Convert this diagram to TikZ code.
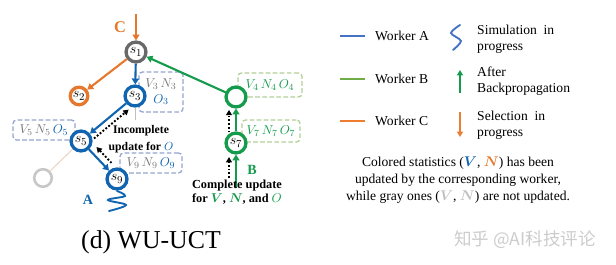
\documentclass[tikz,border=0pt]{standalone}
\usepackage{fontspec}
\setmainfont{Liberation Serif}
\newfontfamily\cjk{Noto Sans CJK SC}
\usepackage{bm}
\usepackage{tikz}
\usetikzlibrary{arrows.meta, calc}
\definecolor{CA}{RGB}{ 16,100,176}
\definecolor{CB}{RGB}{ 20,155, 75}
\definecolor{CC}{RGB}{230,120, 45}
\definecolor{CG}{RGB}{105,105,105}
\definecolor{LA}{RGB}{ 68,114,196}
\definecolor{LB}{RGB}{112,173, 71}
\definecolor{LC}{RGB}{237,125, 49}
\definecolor{BoxA}{RGB}{150,165,205}
\definecolor{BoxB}{RGB}{178,208,150}
\definecolor{GT}{RGB}{120,120,120}
\tikzset{
    snode/.style={circle, line width=2.8pt, fill=white, minimum size=17pt, inner sep=0pt, font=\fontsize{12.5}{12.5}\selectfont},
    link/.style={line width=1.8pt, -{Triangle[length=5pt,width=6pt]}},
    updarr/.style={black, line width=1.6pt, dash pattern=on 1.6pt off 1.6pt, -{Triangle[length=4.5pt,width=5pt]}},
    statbox/.style={rounded corners=3pt, dash pattern=on 4pt off 2pt, line width=1.1pt, inner sep=1pt, font=\fontsize{11}{13}\selectfont, align=center},
    legtxt/.style={anchor=west, align=left, inner sep=0pt, font=\fontsize{11.6}{13.6}\selectfont},
}

\begin{document}
\begin{tikzpicture}[x=0.03cm, y=-0.03cm]
    \useasboundingbox (0,0) rectangle (616,265);
    %% statistics boxes
    \node[statbox, draw=BoxA, minimum width=1.32cm, minimum height=1.2cm] (b3) at (161,92) {$\color{GT}V_3\,N_3$\\$\color{CA}O_3$};
    \node[statbox, draw=BoxB, minimum width=1.92cm, minimum height=0.72cm] (b4) at (270,85) {$\color{CB}V_4\,N_4\,O_4$};
    \node[statbox, draw=BoxA, minimum width=1.86cm, minimum height=0.6cm] (b5) at (44,130) {$\color{GT}V_5\,N_5\,{\color{CA}O_5}$};
    \node[statbox, draw=BoxA, minimum width=1.86cm, minimum height=0.6cm] (b9) at (151,163) {$\color{GT}V_9\,N_9\,{\color{CA}O_9}$};
    \node[statbox, draw=BoxB, minimum width=1.74cm, minimum height=0.66cm] (b7) at (271,131) {$\color{CB}V_7\,N_7\,O_7$};
    %% tree nodes
    \node[snode, draw=CG] (s1) at (136,52) {$s_1$};
    \node[snode, draw=CC, minimum size=15pt] (s2) at (79,96) {$s_2$};
    \node[snode, draw=CA] (s3) at (135,96) {$s_3$};
    \node[snode, draw=CB] (s4) at (236,97) {};
    \node[snode, draw=CA] (s5) at (81,141) {$s_5$};
    \node[snode, draw=black!22, line width=2.2pt, minimum size=15pt] (s6) at (43,178) {};
    \node[snode, draw=CA] (s9) at (117,179) {$s_9$};
    \node[snode, draw=CB] (s7) at (236,143) {$s_7$};
    %% free ends
    \coordinate (cC) at (136,14);
    \coordinate (bB) at (236,188);
    \coordinate (s3tail) at (135,120);
    \coordinate (dB) at (229,178);
    %% edges of the workers
    \draw[black!25, line width=0.8pt] (s3) -- (s3tail);
    \draw[brown!35, line width=0.8pt] (s5) -- (s6);
    \draw[link, CC] (cC) -- (s1);
    \draw[link, CC] (s1) -- (s2);
    \draw[link, CA] (s1) -- (s3);
    \draw[link, CB] (s4) -- (s1);
    \draw[link, CA] (s3) -- (s5);
    \draw[link, CA] (s5) -- (s9);
    \draw[link, CB] (s7) -- (s4);
    \draw[link, CB] (bB) -- (s7);
    %% simulation of worker A
    \draw[CA, line width=1.6pt, line cap=round] plot[smooth, tension=0.6] coordinates {(117,191) (125,196) (108,200) (126,205) (109,211)};
    %% dotted update arrows
    \draw[updarr, shorten <=13pt, shorten >=13pt] ($(s9)+(5,-5)$) -- ($(s5)+(5,-5)$);
    \draw[updarr, shorten <=10pt, shorten >=11.5pt] ($(s5)+(4,5)$) -- ($(s3)+(4,5)$);
    \draw[updarr, shorten <=9pt, shorten >=11pt] ($(s7)+(-7,0)$) -- ($(s4)+(-7,0)$);
    \draw[updarr, shorten >=12pt] (dB) -- ($(s7)+(-7,0)$);
    %% worker labels
    \node[CC, font=\bfseries\fontsize{14}{14}\selectfont] (lC) at (120,27) {C};
    \node[CA, font=\bfseries\fontsize{12}{12}\selectfont] (lA) at (88,200) {A};
    \node[CB, font=\bfseries\fontsize{12}{12}\selectfont] (lB) at (252,170) {B};
    \node[font=\bfseries\fontsize{10}{14}\selectfont, align=center, inner sep=1pt] (incomp) at (141,139) {Incomplete\\update for $\color{CA}O$};
    \node[font=\bfseries\fontsize{10.5}{12}\selectfont, align=center, inner sep=1pt] (comp) at (237,192) {Complete update\\for $\color{CB}\bm{V}$, $\color{CB}\bm{N}$, and $\color{CB}O$};
    %% caption
    \node[font=\fontsize{22}{22}\selectfont] (title) at (151,242) {(d) WU-UCT};
    %% legend
    \draw[LA, line width=2.4pt] (340,36) -- (365,36);
    \draw[LB, line width=2.4pt] (340,79) -- (365,79);
    \draw[LC, line width=2.4pt] (340,121) -- (365,121);
    \node[legtxt] (wA) at (375,36) {Worker A};
    \node[legtxt] (wB) at (375,79) {Worker B};
    \node[legtxt] (wC) at (375,121) {Worker C};
    \draw[LA, line width=1.6pt, line cap=round] plot[smooth, tension=0.5] coordinates {(460,25) (451,33) (461,41) (453,50)};
    \coordinate (gA) at (460,93);
    \coordinate (gB) at (460,70);
    \coordinate (oA) at (460,112);
    \coordinate (oB) at (460,137);
    \draw[CB, line width=1.5pt, -{Triangle[length=4.5pt,width=5pt]}] (gA) -- (gB);
    \draw[LC, line width=1.5pt, -{Triangle[length=4.5pt,width=5pt]}] (oA) -- (oB);
    \node[legtxt] (lsim) at (477,39) {Simulation\ \ in\\progress};
    \node[legtxt] (lbp) at (477,81) {After\\Backpropagation};
    \node[legtxt] (lsel) at (477,125) {Selection\ \ in\\progress};
    \node[align=center, font=\fontsize{11.6}{14.5}\selectfont] (note) at (458,180) {Colored statistics ($\color{CA}\bm{V}$, $\color{CC}\bm{N}$) has been\\updated by the corresponding worker,\\while gray ones ($\color{black!25}\bm{V}$, $\color{black!25}\bm{N}$) are not updated.};
    %% watermark
    \node[black!20, font=\cjk\fontsize{15}{15}\selectfont] (mark) at (525,240) {知乎 @AI科技评论};
\end{tikzpicture}
\end{document}
